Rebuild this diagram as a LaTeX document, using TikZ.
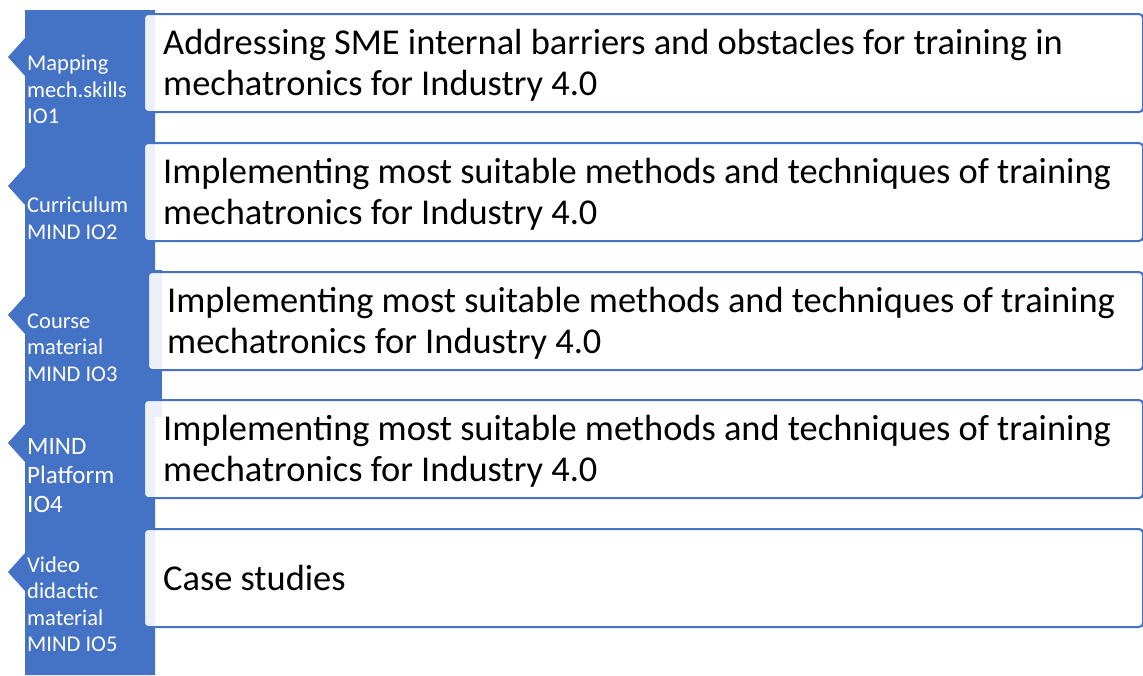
\documentclass[tikz,border=0pt]{standalone}
\usepackage{fontspec}
\setmainfont{Carlito}
\definecolor{accent}{HTML}{4472C4}
\tikzset{
  itembox/.style={draw=accent, line width=2pt, fill=white, fill opacity=0.9,
    rounded corners=4pt, minimum height=98pt, anchor=north west, inner sep=0pt},
  itemtext/.style={anchor=west, align=left, inner sep=0pt, text=black,
    xshift=20pt, yshift=-2.5pt, font=\fontsize{36.4}{41}\selectfont},
  sidetext/.style={anchor=west, align=left, inner sep=0pt, text=white,
    font=\fontsize{22.5}{26.5}\selectfont},
  bigside/.style={sidetext, font=\fontsize{25}{29}\selectfont},
}
\begin{document}
\begin{tikzpicture}[x=1pt,y=-1pt]
\useasboundingbox (0,0) rectangle (1143,675);

% blue chevron column with its left-pointing tips
\fill[accent] (25,10) -- (155,10) -- (155,675) -- (25,675)
  -- (25,591) -- (8,572) -- (25,553)
  -- (25,462) -- (8,443) -- (25,424)
  -- (25,334) -- (8,315) -- (25,296)
  -- (25,205) -- (8,186) -- (25,167)
  -- (25,76) -- (8,57) -- (25,38) -- cycle;
% third chevron is a little wider
\fill[accent] (155,270) rectangle (162,417);

% side labels
\node[sidetext] (l1) at (27,89.5) {Mapping\\mech.skills\\IO1};
\node[sidetext] (l2) at (27,218.5) {Curriculum\\MIND IO2};
\node[sidetext] (l3) at (27,347.5) {Course\\material\\MIND IO3};
\node[bigside] (l4) at (27,476) {MIND\\Platform\\IO4};
\node[sidetext] (l5) at (27,604.5) {Video\\didactic\\material\\MIND IO5};

% text boxes
\node[itembox, minimum width=999pt] (b1) at (143,13) {};
\node[itembox, minimum width=999pt] (b2) at (143,142) {};
\node[itembox, minimum width=995pt] (b3) at (147,271) {};
\node[itembox, minimum width=999pt] (b4) at (143,399) {};
\node[itembox, minimum width=999pt] (b5) at (143,528) {};

\node[itemtext] (t1) at (b1.west)
  {Addressing SME internal barriers and obstacles for training in\\mechatronics for Industry 4.0};
\node[itemtext] (t2) at (b2.west)
  {Implementing most suitable methods and techniques of training\\mechatronics for Industry 4.0};
\node[itemtext] (t3) at (b3.west)
  {Implementing most suitable methods and techniques of training\\mechatronics for Industry 4.0};
\node[itemtext] (t4) at (b4.west)
  {Implementing most suitable methods and techniques of training\\mechatronics for Industry 4.0};
\node[itemtext, yshift=2.5pt] (t5) at (b5.west) {Case studies};
\end{tikzpicture}
\end{document}
